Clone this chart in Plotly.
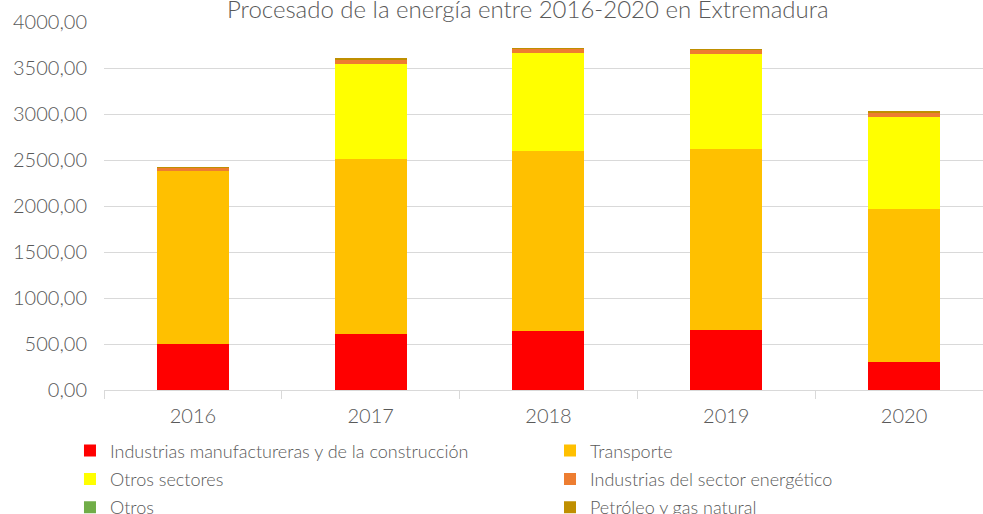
import plotly.graph_objects as go

years = ["2016", "2017", "2018", "2019", "2020"]

industrias_manuf = [505, 612, 645, 652, 308]
transporte = [1875, 1899, 1953, 1971, 1659]
otros_sectores = [0, 1032, 1068, 1026, 1004]
sector_energetico = [33, 48, 45, 47, 44]
otros = [1, 1, 1, 1, 1]
petroleo_gas = [5, 6, 5, 6, 6]

# (name, values, colour, legend column)
series = [
    ("Industrias manufactureras y de la construcción", industrias_manuf, "#FF0000", "legend"),
    ("Transporte", transporte, "#FFC000", "legend2"),
    ("Otros sectores", otros_sectores, "#FFFF00", "legend"),
    ("Industrias del sector energético", sector_energetico, "#ED7D31", "legend2"),
    ("Otros", otros, "#70AD47", "legend"),
    ("Petróleo y gas natural", petroleo_gas, "#BF8F00", "legend2"),
]

FONT = "Lato"
GREY = "#595959"

fig = go.Figure()
for i, (name, vals, color, leg) in enumerate(series):
    fig.add_trace(go.Bar(
        x=years, y=vals, name=name,
        legend=leg, legendgroup=f"g{i}",
        marker=dict(color=color, line=dict(width=0)),
    ))

legend_style = dict(
    orientation="v", xanchor="left", y=-0.115, yanchor="top",
    font=dict(family=FONT, size=18, color=GREY, weight=300),
    tracegroupgap=2, itemsizing="constant",
    bgcolor="rgba(0,0,0,0)",
)

fig.update_layout(
    barmode="stack",
    bargap=0.595,
    width=983, height=514,
    margin=dict(l=104, r=0, t=22, b=124, autoexpand=False),
    paper_bgcolor="white", plot_bgcolor="white",
    separators=",.",
    font=dict(family=FONT, color=GREY, size=18),
    showlegend=True,
    legend=dict(x=-0.0387, **legend_style),
    legend2=dict(x=0.5074, **legend_style),
)

fig.update_xaxes(
    type="category",
    range=[-0.5, 4.444],
    showline=True, linecolor="#d9d9d9", linewidth=1,
    ticks="outside", tickson="boundaries", ticklen=8, tickcolor="#d9d9d9",
    showgrid=False,
    ticklabelstandoff=8,
    tickfont=dict(family=FONT, size=20, color=GREY, weight=300),
)
fig.update_yaxes(
    range=[0, 4000], dtick=500, tickformat=".2f",
    showgrid=True, gridcolor="#d9d9d9", gridwidth=1,
    zeroline=False, showline=False,
    ticklabelstandoff=16,
    tickfont=dict(family=FONT, size=20, color=GREY, weight=300),
)

fig.add_annotation(
    text="Procesado de la energía entre 2016-2020 en Extremadura",
    xref="paper", yref="paper", x=0.482, y=1.0, yanchor="middle",
    yshift=14, showarrow=False,
    font=dict(family=FONT, size=24, color=GREY, weight=300),
)

fig.write_html("out.html")
